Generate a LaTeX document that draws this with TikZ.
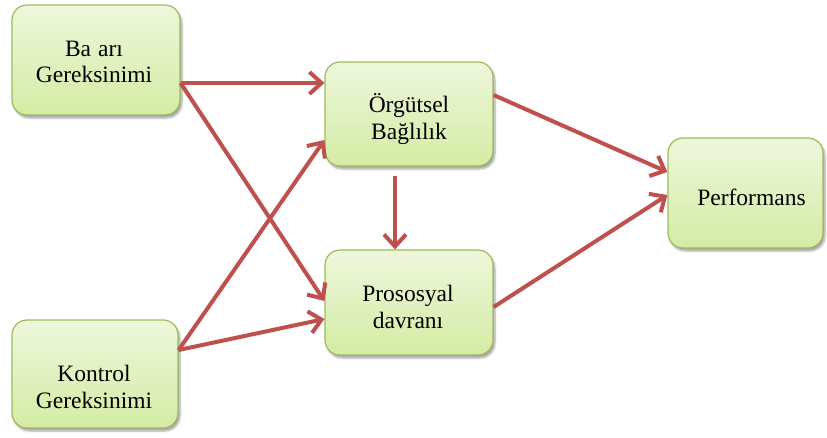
\documentclass[tikz,border=0pt]{standalone}
\usepackage{fontspec}
\setmainfont{Liberation Serif}
\usetikzlibrary{arrows.meta,shadows.blur}
\definecolor{boxedge}{HTML}{9BBB59}
\definecolor{boxtop}{HTML}{EEF7DC}
\definecolor{boxbottom}{HTML}{D4ECA4}
\definecolor{linkred}{HTML}{C0504D}
\tikzset{
  box/.style={rectangle, rounded corners=15pt, draw=boxedge, line width=1.2pt,
    top color=boxtop, bottom color=boxbottom,
    blur shadow={shadow xshift=2pt, shadow yshift=-3pt, shadow blur steps=6, shadow opacity=35}},
  boxtext/.style={align=center, font=\fontsize{23.5}{26.5}\selectfont, inner sep=0pt},
  link/.style={draw=linkred, line width=4pt,
    -{Straight Barb[length=12pt, width=22pt]}}
}
\begin{document}
\begin{tikzpicture}[x=1pt, y=-1pt]
\useasboundingbox (0,0) rectangle (827,437);

% boxes
\node[box, minimum width=168pt, minimum height=110pt] (bas) at (96,60) {};
\node[box, minimum width=168pt, minimum height=104pt] (org) at (409,114) {};
\node[box, minimum width=168pt, minimum height=105pt] (pro) at (409,302.5) {};
\node[box, minimum width=155pt, minimum height=110pt] (per) at (745.5,193) {};
\node[box, minimum width=166pt, minimum height=108pt] (kon) at (95,374) {};

% box texts
\node[boxtext] (tbas) at (94,62) {Ba\hspace{0.3em}arı\\Gereksinimi};
\node[boxtext] (torg) at (409,119) {Örgütsel\\Bağlılık};
\node[boxtext] (tpro) at (408,307) {Prososyal\\davranı};
\node[boxtext] (tper) at (751.5,197) {Performans};
\node[boxtext] (tkon) at (94,387) {Kontrol\\Gereksinimi};

% connectors
\draw[link] ([yshift=-23pt]bas.east) -- ([yshift=31pt]org.west);
\draw[link] ([yshift=-23pt]bas.east) -- ([yshift=1.5pt]pro.west);
\draw[link] ([yshift=24pt]kon.east) -- ([yshift=-26pt]org.west);
\draw[link] ([yshift=24pt]kon.east) -- ([yshift=-16.5pt]pro.west);
\draw[link] ([xshift=-14pt, yshift=-9pt]org.south) -- ([xshift=-14pt]pro.north);
\draw[link] ([yshift=19pt]org.east) -- ([yshift=21pt]per.west);
\draw[link] ([yshift=-4.5pt]pro.east) -- ([yshift=-2pt]per.west);
\end{tikzpicture}
\end{document}
